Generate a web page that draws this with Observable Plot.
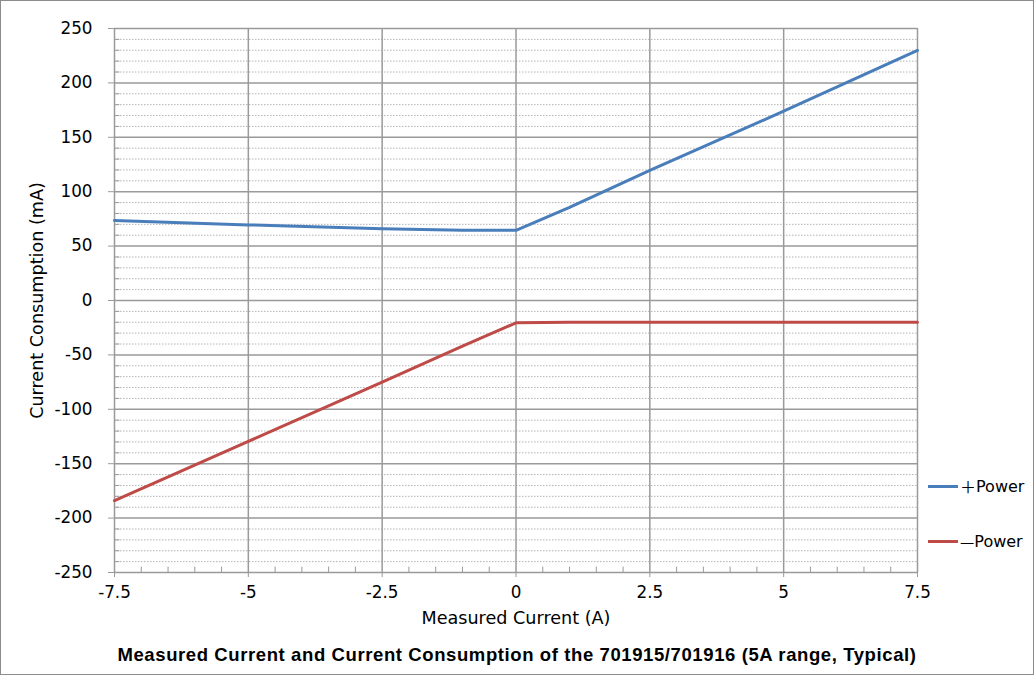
<!DOCTYPE html>
<html><head><meta charset="utf-8">
<script src="https://cdn.jsdelivr.net/npm/d3@7"></script>
<script src="https://cdn.jsdelivr.net/npm/@observablehq/plot@0.6"></script>
<style>
body{margin:0;background:#fff;}
#chart{position:relative;width:1034px;height:675px;box-sizing:border-box;border:1px solid #8c8c8c;background:#fff;font-family:"DejaVu Sans",Verdana,sans-serif;overflow:hidden;}
#chart svg{position:absolute;left:0;top:0;}
#chart svg g[aria-label="x-axis label"] text, #chart svg g[aria-label="y-axis label"] text{font-size:17.6px;}
#chart svg g[aria-label="x-axis tick label"] text, #chart svg g[aria-label="y-axis tick label"] text{font-size:16.8px;}
.leg{position:absolute;left:927px;font-size:16px;display:flex;align-items:center;color:#000;font-family:"DejaVu Sans",Verdana,sans-serif;}
.leg span.sw{display:inline-block;width:30px;height:3px;margin-right:2px;}
.leg span.sym{font-family:"Noto Sans CJK JP","DejaVu Sans",sans-serif;}
#title{position:absolute;left:0;width:1032px;top:643px;text-align:center;font-family:"Liberation Sans",Arial,sans-serif;font-weight:bold;font-size:18.5px;letter-spacing:0.6px;color:#000;}
</style></head><body><div id="chart"></div>
<script>
const current = [-7.5, -5, -2.5, -1, 0, 1, 2.5, 5, 7.5];
const plusPower = [73.5, 69.5, 66, 64.5, 64.5, 85.5, 119.5, 174, 229.8];
const minusPower = [-184, -129.5, -75, -42, -20.5, -20, -20, -20, -20];
const seriesNames = ["＋Power", "—Power"];
const seriesColors = ["#4a7ebb", "#be4b48"];
const xTicks = [-7.5, -5, -2.5, 0, 2.5, 5, 7.5];
const xTickLabels = ["-7.5", "-5", "-2.5", "0", "2.5", "5", "7.5"];
const yTicks = [-250, -200, -150, -100, -50, 0, 50, 100, 150, 200, 250];
const yTickLabels = ["-250", "-200", "-150", "-100", "-50", "0", "50", "100", "150", "200", "250"];
const xMinor = d3.range(-15, 16).map(k => k / 2).filter(v => !xTicks.includes(v));
const yMinor = d3.range(-25, 26).map(k => k * 10).filter(v => v % 50 !== 0);
const titleText = "Measured Current and Current Consumption of the 701915/701916 (5A range, Typical)";
const xLabel = "Measured Current (A)";
const yLabel = "Current Consumption (mA)";

const rows = current.flatMap((x, i) => [
  {x, y: plusPower[i], s: seriesNames[0]},
  {x, y: minusPower[i], s: seriesNames[1]}
]);

const grid = "#9a9a9a";
const plot = Plot.plot({
  width: 1032,
  height: 628,
  marginLeft: 113,
  marginTop: 27,
  marginRight: 116,
  marginBottom: 57,
  style: {fontFamily: '"DejaVu Sans", Verdana, sans-serif', fontSize: "16px", background: "#fff", color: "#000"},
  x: {domain: [-7.5, 7.5]},
  y: {domain: [-250, 250]},
  color: {domain: seriesNames, range: seriesColors},
  marks: [
    Plot.gridY(yMinor, {stroke: "#b4b4b4", strokeOpacity: 1, strokeDasharray: "1.5,1.5"}),
    Plot.gridX(xTicks, {stroke: grid, strokeOpacity: 1, strokeWidth: 1.5}),
    Plot.gridY(yTicks, {stroke: grid, strokeOpacity: 1, strokeWidth: 1.5}),
    Plot.ruleY(yMinor, {x1: -7.5, x2: -7.4, stroke: grid}),
    Plot.ruleX(xMinor, {y1: -250, y2: -245, stroke: grid}),
    Plot.axisY(yTicks, {tickSize: 6, tickPadding: 16, fontSize: 16, stroke: grid, fill: "#000", tickFormat: (d, i) => yTickLabels[i],
      label: yLabel, labelAnchor: "center", labelArrow: "none", labelOffset: 84}),
    Plot.axisX(xTicks, {tickSize: 5, tickPadding: 9, fontSize: 16, stroke: grid, fill: "#000", tickFormat: (d, i) => xTickLabels[i],
      label: xLabel, labelAnchor: "center", labelArrow: "none", labelOffset: 51}),
    Plot.line(rows, {x: "x", y: "y", z: "s", stroke: "s", strokeWidth: 3})
  ]
});
const chart = document.getElementById("chart");
chart.appendChild(plot);

[486, 541].forEach((top, i) => {
  const d = document.createElement("div");
  d.className = "leg";
  d.style.top = (top - 13) + "px";
  const sym = seriesNames[i].charAt(0), rest = seriesNames[i].slice(1);
  d.innerHTML = `<span class="sw" style="background:${seriesColors[i]}"></span><span class="sym">${sym}</span><span>${rest}</span>`;
  chart.appendChild(d);
});
const t = document.createElement("div");
t.id = "title";
t.textContent = titleText;
chart.appendChild(t);
</script>
</body></html>
